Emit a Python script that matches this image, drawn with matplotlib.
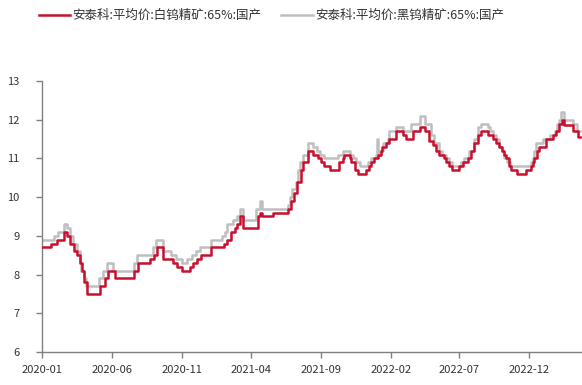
import matplotlib
matplotlib.use("Agg")
import matplotlib.pyplot as plt
import matplotlib.dates as mdates
import pandas as pd

plt.rcParams['font.family'] = ['Noto Sans CJK SC', 'DejaVu Sans']

# 安泰科 weekly quotes, stored as change points (date the price moved, new price)
white_dates = [
    "2020-01-02", "2020-01-20", "2020-02-03", "2020-02-17", "2020-02-24", "2020-03-02",
    "2020-03-10", "2020-03-17", "2020-03-24", "2020-03-28", "2020-04-02", "2020-04-08",
    "2020-05-06", "2020-05-18", "2020-05-25", "2020-06-08", "2020-07-21", "2020-07-28",
    "2020-08-24", "2020-09-01", "2020-09-08", "2020-09-21", "2020-10-13", "2020-10-21",
    "2020-11-02", "2020-11-19", "2020-11-25", "2020-12-04", "2020-12-14", "2021-01-05",
    "2021-02-01", "2021-02-08", "2021-02-18", "2021-02-25", "2021-03-02", "2021-03-08",
    "2021-03-15", "2021-04-16", "2021-04-22", "2021-04-25", "2021-05-19", "2021-06-21",
    "2021-06-28", "2021-07-05", "2021-07-12", "2021-07-19", "2021-07-24", "2021-08-05",
    "2021-08-16", "2021-08-26", "2021-09-02", "2021-09-09", "2021-09-22", "2021-10-12",
    "2021-10-19", "2021-10-22", "2021-11-03", "2021-11-07", "2021-11-15", "2021-11-21",
    "2021-12-09", "2021-12-16", "2021-12-21", "2021-12-27", "2022-01-04", "2022-01-10",
    "2022-01-14", "2022-01-21", "2022-01-28", "2022-02-13", "2022-02-27", "2022-03-07",
    "2022-03-21", "2022-04-05", "2022-04-16", "2022-04-26", "2022-05-04", "2022-05-11",
    "2022-05-18", "2022-05-29", "2022-06-02", "2022-06-09", "2022-06-16", "2022-07-01",
    "2022-07-08", "2022-07-19", "2022-07-27", "2022-08-03", "2022-08-10", "2022-08-17",
    "2022-09-01", "2022-09-12", "2022-09-19", "2022-09-26", "2022-10-03", "2022-10-07",
    "2022-10-11", "2022-10-18", "2022-10-22", "2022-11-05", "2022-11-23", "2022-12-04",
    "2022-12-08", "2022-12-12", "2022-12-18", "2022-12-23", "2023-01-06", "2023-01-21",
    "2023-01-28", "2023-02-04", "2023-02-10", "2023-02-15", "2023-03-06", "2023-03-17",
    "2023-03-21",
]
white_price = [
    8.7, 8.8, 8.9, 9.1, 9.0, 8.8,
    8.6, 8.5, 8.3, 8.1, 7.8, 7.5,
    7.7, 7.9, 8.1, 7.9, 8.1, 8.3,
    8.4, 8.5, 8.7, 8.4, 8.3, 8.2,
    8.1, 8.2, 8.3, 8.4, 8.5, 8.7,
    8.8, 8.9, 9.1, 9.2, 9.3, 9.5,
    9.2, 9.5, 9.6, 9.5, 9.6, 9.7,
    9.9, 10.1, 10.4, 10.7, 10.9, 11.2,
    11.1, 11.0, 10.9, 10.8, 10.7, 10.9,
    11.0, 11.1, 11.0, 10.9, 10.7, 10.6,
    10.7, 10.8, 10.9, 11.0, 11.1, 11.2,
    11.3, 11.4, 11.5, 11.7, 11.6, 11.5,
    11.7, 11.8, 11.7, 11.45, 11.35, 11.2,
    11.1, 11.0, 10.9, 10.8, 10.7, 10.8,
    10.9, 11.0, 11.2, 11.4, 11.6, 11.7,
    11.6, 11.5, 11.4, 11.3, 11.2, 11.1,
    11.0, 10.8, 10.7, 10.6, 10.7, 10.8,
    10.9, 11.0, 11.2, 11.3, 11.5, 11.6,
    11.7, 11.9, 12.0, 11.85, 11.7, 11.55,
    11.55,
]

black_dates = [
    "2020-01-02", "2020-01-27", "2020-02-05", "2020-02-17", "2020-02-24", "2020-03-02",
    "2020-03-09", "2020-03-17", "2020-03-23", "2020-03-27", "2020-04-02", "2020-04-06",
    "2020-05-04", "2020-05-13", "2020-05-22", "2020-06-05", "2020-07-20", "2020-07-27",
    "2020-08-31", "2020-09-07", "2020-09-21", "2020-10-09", "2020-10-19", "2020-11-02",
    "2020-11-12", "2020-11-23", "2020-12-02", "2020-12-11", "2021-01-05", "2021-01-28",
    "2021-02-03", "2021-02-08", "2021-02-22", "2021-03-01", "2021-03-08", "2021-03-15",
    "2021-04-12", "2021-04-22", "2021-04-25", "2021-06-21", "2021-06-25", "2021-07-01",
    "2021-07-08", "2021-07-13", "2021-07-18", "2021-07-24", "2021-08-05", "2021-08-16",
    "2021-08-23", "2021-08-30", "2021-09-09", "2021-10-08", "2021-10-19", "2021-11-03",
    "2021-11-10", "2021-11-18", "2021-11-25", "2021-12-13", "2021-12-20", "2021-12-30",
    "2022-01-03", "2022-01-05", "2022-01-07", "2022-01-15", "2022-01-25", "2022-01-29",
    "2022-02-13", "2022-02-27", "2022-03-18", "2022-04-05", "2022-04-16", "2022-04-30",
    "2022-05-07", "2022-05-18", "2022-05-25", "2022-06-02", "2022-06-09", "2022-06-16",
    "2022-07-05", "2022-07-12", "2022-07-23", "2022-08-03", "2022-08-10", "2022-08-17",
    "2022-09-01", "2022-09-07", "2022-09-12", "2022-09-19", "2022-09-26", "2022-10-03",
    "2022-10-07", "2022-10-14", "2022-10-19", "2022-12-04", "2022-12-08", "2022-12-12",
    "2022-12-16", "2022-12-30", "2023-01-14", "2023-01-25", "2023-01-30", "2023-02-03",
    "2023-02-09", "2023-02-14", "2023-03-06", "2023-03-14", "2023-03-21",
]
black_price = [
    8.9, 9.0, 9.1, 9.3, 9.2, 9.0,
    8.8, 8.6, 8.3, 8.1, 7.9, 7.7,
    7.9, 8.1, 8.3, 8.1, 8.3, 8.5,
    8.7, 8.9, 8.6, 8.5, 8.4, 8.3,
    8.4, 8.5, 8.6, 8.7, 8.9, 9.0,
    9.1, 9.3, 9.4, 9.5, 9.7, 9.4,
    9.7, 9.9, 9.7, 9.8, 10.0, 10.2,
    10.4, 10.7, 10.9, 11.1, 11.4, 11.3,
    11.2, 11.1, 11.0, 11.1, 11.2, 11.1,
    11.0, 10.9, 10.8, 10.9, 11.0, 11.1,
    11.5, 11.1, 11.2, 11.4, 11.5, 11.7,
    11.8, 11.7, 11.9, 12.1, 11.9, 11.6,
    11.4, 11.2, 11.1, 11.0, 10.9, 10.8,
    10.9, 11.0, 11.2, 11.5, 11.8, 11.9,
    11.8, 11.7, 11.6, 11.5, 11.3, 11.2,
    11.0, 10.9, 10.8, 10.9, 11.0, 11.2,
    11.4, 11.5, 11.6, 11.7, 11.9, 12.0,
    12.2, 12.0, 11.9, 11.7, 11.7,
]

labels = ["安泰科:平均价:白钨精矿:65%:国产", "安泰科:平均价:黑钨精矿:65%:国产"]
tick_dates = pd.date_range("2020-01-01", "2022-12-01", freq="5MS")

RED = "#C8102E"
GRAY = "#BFBFBF"
AXIS = "#808080"

fig = plt.figure(figsize=(5.82, 3.85), dpi=100)
ax = fig.add_axes([0.0722, 0.0857, 0.927, 0.704])

ax.plot(pd.to_datetime(white_dates), white_price, drawstyle="steps-post",
        color=RED, lw=1.8, label=labels[0], zorder=3)
ax.plot(pd.to_datetime(black_dates), black_price, drawstyle="steps-post",
        color=GRAY, lw=1.8, label=labels[1], zorder=2)

ax.set_ylim(6, 13)
ax.set_yticks(range(6, 14))
ax.set_xlim(pd.Timestamp("2020-01-01"), pd.Timestamp("2023-03-25"))
ax.set_xticks(tick_dates)
ax.xaxis.set_major_formatter(mdates.DateFormatter("%Y-%m"))

for s in ("top", "right"):
    ax.spines[s].set_visible(False)
for s in ("left", "bottom"):
    ax.spines[s].set_color(AXIS)
    ax.spines[s].set_linewidth(1.0)
ax.tick_params(axis="both", direction="out", length=4, width=1.0, color=AXIS,
               labelsize=8, labelcolor="#333333")
ax.tick_params(axis="y", pad=12)
ax.tick_params(axis="x", pad=5)

# legend across the top, above the plot area
handles = ax.get_lines()
fig.legend(handles, labels, loc="center left", bbox_to_anchor=(0.047, 0.96),
           ncol=2, frameon=False, fontsize=9, handlelength=2.5, handletextpad=0.2,
           columnspacing=1.6, labelcolor="#333333")

fig.savefig("out.png", dpi=100)
